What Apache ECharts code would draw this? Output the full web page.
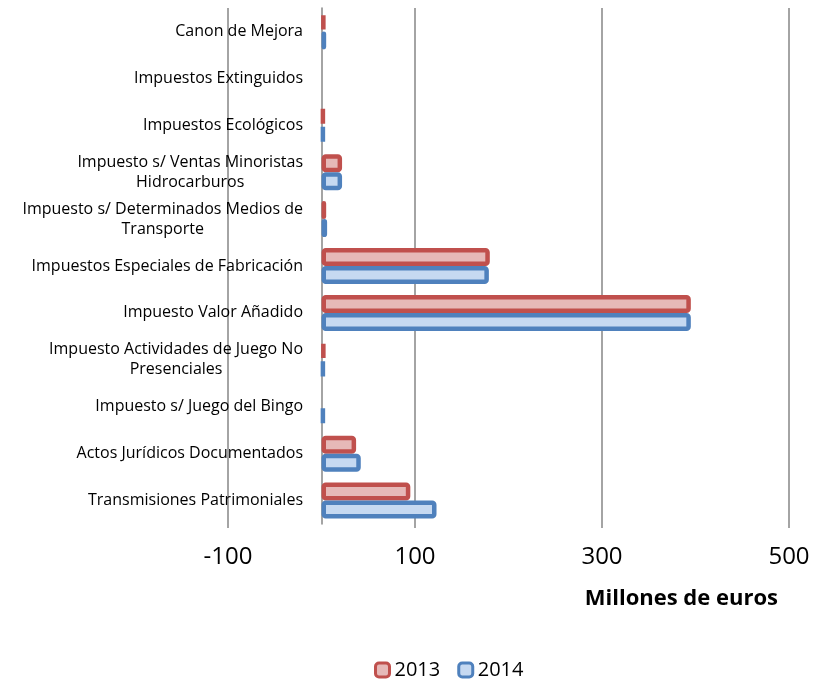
<!DOCTYPE html>
<html>
<head>
<meta charset="utf-8">
<script src="https://cdn.jsdelivr.net/npm/echarts@6/dist/echarts.min.js"></script>
<style>
  html, body { margin: 0; padding: 0; background: #fff; }
  #chart { width: 813px; height: 684px; }
</style>
</head>
<body>
<div id="chart"></div>
<script>
  // categories, top to bottom
  const categories = [
    'Canon de Mejora',
    'Impuestos Extinguidos',
    'Impuestos Ecológicos',
    'Impuesto s/ Ventas Minoristas\nHidrocarburos',
    'Impuesto s/ Determinados Medios de\nTransporte',
    'Impuestos Especiales de Fabricación',
    'Impuesto Valor Añadido',
    'Impuesto Actividades de Juego No\nPresenciales',
    'Impuesto s/ Juego del Bingo',
    'Actos Jurídicos Documentados',
    'Transmisiones Patrimoniales'
  ];
  // millones de euros, null = no bar
  const values2013 = [4, null, 3, 22, 5, 180, 395, 4, null, 37, 95];
  const values2014 = [5, null, 3, 22, 6, 179, 395, 3, 3, 42, 123];
  const seriesNames = ['2013', '2014'];
  const xMin = -100;
  const xMax = 500;
  const xStep = 200;
  const axisTitle = 'Millones de euros';

  const font = '"Open Sans", "Liberation Sans", sans-serif';

  const chart = echarts.init(document.getElementById('chart'));

  const option = {
    animation: false,
    textStyle: { fontFamily: font },
    grid: {
      left: 228,
      right: 24,
      top: 8,
      bottom: 160,
      containLabel: false,
      outerBoundsMode: 'none'
    },
    legend: {
      data: seriesNames,
      top: 655,
      left: 369,
      itemWidth: 14,
      itemHeight: 14,
      itemGap: 17,
      icon: 'roundRect',
      itemStyle: { borderWidth: 3 },
      textStyle: { fontSize: 20, color: '#000', fontFamily: font }
    },
    xAxis: {
      type: 'value',
      min: xMin,
      max: xMax,
      interval: xStep,
      axisLine: { show: false },
      axisTick: { show: true, length: 4, lineStyle: { color: '#868686', width: 1.5 } },
      splitLine: { show: true, lineStyle: { color: '#868686', width: 1.5 } },
      axisLabel: { fontSize: 24, color: '#000', margin: 21, fontFamily: font }
    },
    yAxis: {
      type: 'category',
      inverse: true,
      data: categories,
      axisLine: { show: true, onZero: true, onZeroAxisIndex: 0, lineStyle: { color: '#868686', width: 1.5 } },
      axisTick: { show: false },
      axisLabel: {
        // labels sit at the grid edge, pull them next to the zero line
        margin: -75,
        formatter: function (v) {
          return v.split('\n').map(function (s) { return '{c|' + s + '}'; }).join('\n');
        },
        rich: {
          c: { align: 'center', fontSize: 16, lineHeight: 20, color: '#000', fontFamily: font }
        }
      }
    },
    graphic: [
      {
        type: 'text',
        x: 778,
        y: 599,
        style: {
          text: axisTitle,
          font: 'bold 22px ' + font,
          fill: '#000',
          align: 'right',
          verticalAlign: 'middle'
        }
      }
    ],
    series: [
      {
        name: seriesNames[0],
        type: 'bar',
        data: values2013,
        barWidth: 18,
        barGap: '0%',
        itemStyle: { color: '#E6B9B8', borderColor: '#C0504D', borderWidth: 4.5, borderRadius: 2 }
      },
      {
        name: seriesNames[1],
        type: 'bar',
        data: values2014,
        barWidth: 18,
        barGap: '0%',
        itemStyle: { color: '#C6D9F1', borderColor: '#4F81BD', borderWidth: 4.5, borderRadius: 2 }
      }
    ]
  };

  chart.setOption(option);
</script>
</body>
</html>
